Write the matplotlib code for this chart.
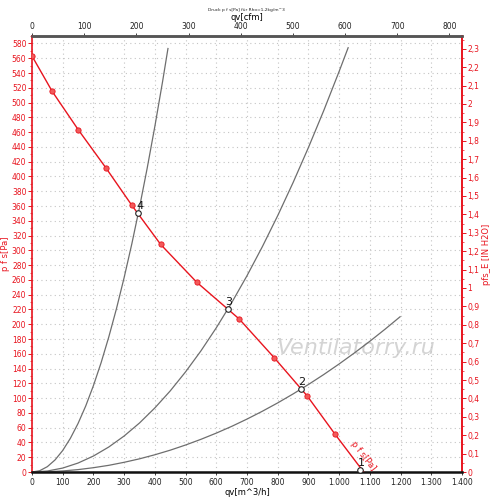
import matplotlib
matplotlib.use("Agg")
import matplotlib.pyplot as plt
from matplotlib.ticker import FixedLocator, FuncFormatter, MultipleLocator

# ---- data ----
fan_q = [0, 66, 151, 240, 325, 419, 536, 675, 788, 896, 987, 1080]
fan_p = [563, 515, 463, 412, 361, 308, 257, 207, 155, 103, 51, 0]

sys4_q = [0, 25, 50, 75, 100, 125, 150, 175, 200, 225, 250, 275, 300, 325, 350, 375, 400, 425, 443]
sys4_p = [0, 1.8, 7.3, 16.4, 29.2, 45.7, 65.8, 89.5, 117, 148, 182.8, 221.1, 263.2, 308.8, 358.2,
          411.2, 467.8, 528.1, 574]
sys3_q = [0, 50, 100, 150, 200, 250, 300, 350, 400, 450, 500, 550, 600, 650, 700, 750, 800, 850,
          900, 950, 1000, 1030]
sys3_p = [0, 1.4, 5.4, 12.2, 21.7, 33.9, 48.8, 66.4, 86.8, 109.8, 135.6, 164, 195.2, 229.1, 265.7,
          305, 347, 391.7, 439.2, 489.3, 542.2, 575]
sys2_q = [0, 50, 100, 150, 200, 250, 300, 350, 400, 450, 500, 550, 600, 650, 700, 750, 800, 850,
          900, 950, 1000, 1050, 1100, 1150, 1200]
sys2_p = [0, 0.4, 1.5, 3.3, 5.9, 9.1, 13.2, 17.9, 23.4, 29.6, 36.6, 44.3, 52.7, 61.8, 71.7, 82.3,
          93.6, 105.7, 118.5, 132, 146.3, 161.3, 177, 193.5, 210.7]
sys1_q = [0, 1200]
sys1_p = [0, 0]

op_q = [1068, 875, 637, 346]
op_p = [3, 112, 220, 350]
op_labels = ["1", "2", "3", "4"]

x_ticks = [0, 100, 200, 300, 400, 500, 600, 700, 800, 900, 1000, 1100, 1200, 1300, 1400]
cfm_ticks = [0, 100, 200, 300, 400, 500, 600, 700, 800]
pa_ticks = list(range(0, 600, 20))
inh2o_ticks = [i / 10 for i in range(0, 24)]

CFM_PER_M3H = 0.588578
PA_PER_INH2O = 249.089

RED = "#e8141e"
GRAY = "#6e6e6e"
FS = 5.5

fig = plt.figure(figsize=(5.0, 4.99), dpi=100)
ax = fig.add_axes([0.064, 0.054, 0.86, 0.8737])
ax.set_xlim(0, 1400)
ax.set_ylim(0, 590)

# grid
ax.xaxis.set_major_locator(FixedLocator(x_ticks))
ax.yaxis.set_major_locator(FixedLocator(pa_ticks))
ax.yaxis.set_minor_locator(MultipleLocator(10))
ax.grid(True, which="major", color="#c4c4c4", linestyle=(0, (1, 3)), linewidth=0.8)

# watermark
ax.text(0.753, 0.284, "Ventilatorry.ru", transform=ax.transAxes, fontsize=16,
        style="italic", color="#d4d4d4", ha="center", va="center", zorder=1)

# system curves
for qq, pp in [(sys1_q, sys1_p), (sys2_q, sys2_p), (sys3_q, sys3_p), (sys4_q, sys4_p)]:
    ax.plot(qq, pp, color=GRAY, linewidth=0.9, zorder=2, solid_capstyle="butt")

# fan curve
ax.plot(fan_q, fan_p, color=RED, linewidth=1.0, zorder=3,
        marker="o", markersize=3.8, markerfacecolor="#f25a5a", markeredgecolor=RED,
        markeredgewidth=0.6, markevery=list(range(len(fan_q) - 1)))
ax.text(1033, 36, "p f s[Pa]", rotation=-52, rotation_mode="anchor", ha="left", va="bottom",
        fontsize=6, color=RED, clip_on=True, zorder=3)

# operating points
ax.plot(op_q, op_p, linestyle="none", marker="o", markersize=4, markerfacecolor="white",
        markeredgecolor="#222222", markeredgewidth=0.8, zorder=4, clip_on=False)
for q, p, lab in zip(op_q, op_p, op_labels):
    ax.annotate(lab, (q, p), xytext=(1, 1.5), textcoords="offset points", ha="center",
                va="bottom", fontsize=8, color="#111111", zorder=5)

# bottom axis
ax.xaxis.set_major_formatter(FuncFormatter(lambda v, pos: f"{int(v):,}".replace(",", ".")))
ax.tick_params(axis="x", labelsize=FS, colors="#222222", length=2, width=0.6, pad=2)
ax.set_xlabel("qv[m^3/h]", fontsize=FS + 0.5, labelpad=1)

# left axis
ax.tick_params(axis="y", which="major", labelsize=FS, colors=RED, length=3, width=0.7, pad=1)
ax.tick_params(axis="y", which="minor", colors=RED, length=1.5, width=0.5)
ax.set_ylabel("p f s[Pa]", fontsize=FS + 0.5, color=RED, labelpad=1)

ax.spines["left"].set_color(RED)
ax.spines["left"].set_linewidth(1.2)
ax.spines["bottom"].set_color("#111111")
ax.spines["bottom"].set_linewidth(1.8)
ax.spines["top"].set_color("#555555")
ax.spines["top"].set_linewidth(1.8)
ax.spines["right"].set_color(RED)
ax.spines["right"].set_linewidth(1.2)

# top axis (cfm)
top = ax.secondary_xaxis("top", functions=(lambda q: q * CFM_PER_M3H, lambda c: c / CFM_PER_M3H))
top.xaxis.set_major_locator(FixedLocator(cfm_ticks))
top.tick_params(labelsize=FS, colors="#222222", length=2, width=0.6, pad=1.5)
top.set_xlabel("qv[cfm]", fontsize=FS + 0.5, labelpad=1.5)
top.spines["top"].set_color("#555555")
top.spines["top"].set_linewidth(1.8)

# right axis (in H2O)
right = ax.secondary_yaxis("right", functions=(lambda p: p / PA_PER_INH2O, lambda w: w * PA_PER_INH2O))
right.yaxis.set_major_locator(FixedLocator(inh2o_ticks))
right.yaxis.set_minor_locator(MultipleLocator(0.05))


def fmt_in(v, pos):
    s = f"{v:.1f}"
    if s.endswith(".0"):
        s = s[:-2]
    return s.replace(".", ",")


right.yaxis.set_major_formatter(FuncFormatter(fmt_in))
right.tick_params(axis="y", which="major", labelsize=FS, colors=RED, length=3, width=0.7, pad=1)
right.tick_params(axis="y", which="minor", colors=RED, length=1.5, width=0.5)
right.spines["right"].set_color(RED)
right.spines["right"].set_linewidth(1.2)
right.set_ylabel("pfs_E [IN H2O]", fontsize=FS + 0.5, color=RED, labelpad=2)

fig.text(0.492, 0.98, "Druck p f s[Pa] für Rho=1,2kg/m^3", fontsize=3.2, ha="center", va="center",
         color="#222222")

fig.savefig("out.png", dpi=100)
